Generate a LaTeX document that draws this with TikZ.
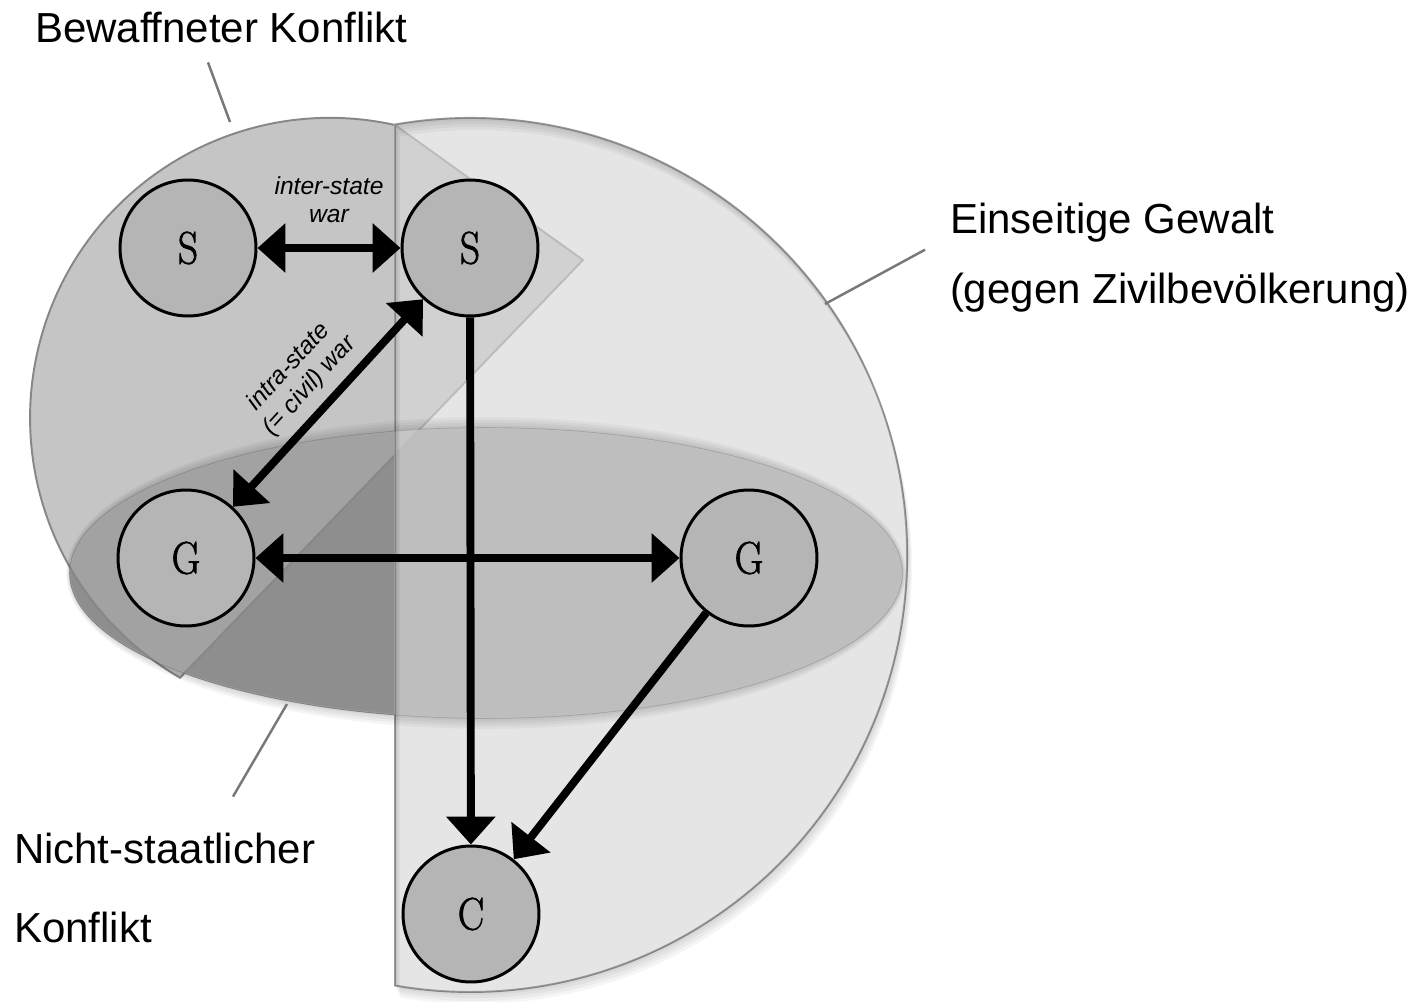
\documentclass[tikz,border=0pt]{standalone}
\usepackage{fontspec}
\newfontfamily\labelfont{Liberation Sans}
\newfontfamily\letterfont[FakeBold=1.6,FakeStretch=0.86]{Latin Modern Roman}
\usepackage{tikz}
\usetikzlibrary{shapes,arrows.meta,positioning}
\definecolor{ellfill}{RGB}{142,142,142}
\definecolor{armfill}{RGB}{172,172,172}
\definecolor{onefill}{RGB}{216,216,216}
\definecolor{nodefill}{RGB}{181,181,181}
\definecolor{rimdark}{RGB}{135,135,135}
\definecolor{rimlight}{RGB}{155,155,155}
\definecolor{pointer}{RGB}{120,120,120}

\begin{document}
\begin{tikzpicture}
  [
    x=0.02cm, y=-0.02cm,
    Actor/.style={circle, draw=black, fill=nodefill, line width=1.7pt, minimum size=2.72cm, inner sep=0pt, font=\letterfont\fontsize{26}{26}\selectfont},
    Armed/.style={fill=armfill, fill opacity=0.69, draw=rimdark, line width=1.1pt},
    OneSided/.style={fill=onefill, fill opacity=0.65, draw=rimlight, line width=1.1pt},
    NonState/.style={fill=ellfill, draw=rimlight, line width=0.9pt},
    Shade/.style={fill=black, fill opacity=0.04, even odd rule},
    Both/.style={{Triangle[length=0.56cm, width=0.96cm]}-{Triangle[length=0.56cm, width=0.96cm]}, line width=4.5pt},
    One/.style={-{Triangle[length=0.56cm, width=0.96cm]}, line width=4.5pt},
    Pointer/.style={draw=pointer, line width=1.4pt},
    Title/.style={font=\labelfont\fontsize{23.9}{28}\selectfont, inner sep=0pt, outer sep=0pt, anchor=base west},
    Small/.style={font=\labelfont\itshape\fontsize{14}{16}\selectfont, align=center}
  ]
  \fill[white] (0,0) rectangle (1420,1001);
  \useasboundingbox (0,0) rectangle (1420,1001);
  % Regions
  \path[NonState] (486,573) ellipse [x radius=416, y radius=145];
  \path[Armed] (395,125) arc [start angle=-77.5, end angle=-240, radius=300] -- (583,260) -- cycle;
  \path[OneSided] (395,124.5) arc [start angle=-99.9, end angle=99.9, radius=437] -- cycle;
  % soft shadows
  \foreach \d in {3,6,9,12} {
    \path[Shade] (486,573) ellipse [x radius=416+0.3*\d, y radius=145+0.9*\d]
      (486,573) ellipse [x radius=416, y radius=145];
    \path[Shade] ([shift={(0.4*\d,\d)}]395,124.5) arc [start angle=-99.9, end angle=99.9, radius=437] -- cycle
      (395,124.5) arc [start angle=-99.9, end angle=99.9, radius=437] -- cycle;
  }
  % Labels
  \node[Title] (lArmed) at (35,42) {Bewaffneter Konflikt};
  \node[Title] (lOneA) at (950,233) {Einseitige Gewalt};
  \node[Title] (lOneB) at (950,303) {(gegen Zivilbevölkerung)};
  \node[Title] (lNonA) at (14,863) {Nicht-staatlicher};
  \node[Title] (lNonB) at (14,942) {Konflikt};
  \coordinate (pArmed) at (230,122);
  \coordinate (pOne) at (825,304);
  \coordinate (pNon) at (287,704);
  \path [Pointer] ([shift={(173,20)}]lArmed.south west) -- (pArmed);
  \path [Pointer] ([shift={(-25,8)}]lOneA.south west) -- (pOne);
  \path [Pointer] ([shift={(219,-36)}]lNonA.north west) -- (pNon);
  % Nodes
  \node[Actor] (s1) at (188,248) {S};
  \node[Actor] (s2) at (470,248) {S};
  \node[Actor] (g1) at (186,558) {G};
  \node[Actor] (g2) at (749,558) {G};
  \node[Actor] (c) at (471,914) {C};
  % Lines
  \path [Both, draw] (s1) -- node[Small, above=0.3cm] {inter-state\\war} (s2);
  \path [Both, draw] (g1) -- node[Small, sloped, above=2pt] {intra-state\\(= civil) war} (s2);
  \path [Both, draw] (g1) -- (g2);
  \path [One, draw] (s2) -- (c);
  \path [One, draw] (g2) -- (c);
\end{tikzpicture}
\end{document}
